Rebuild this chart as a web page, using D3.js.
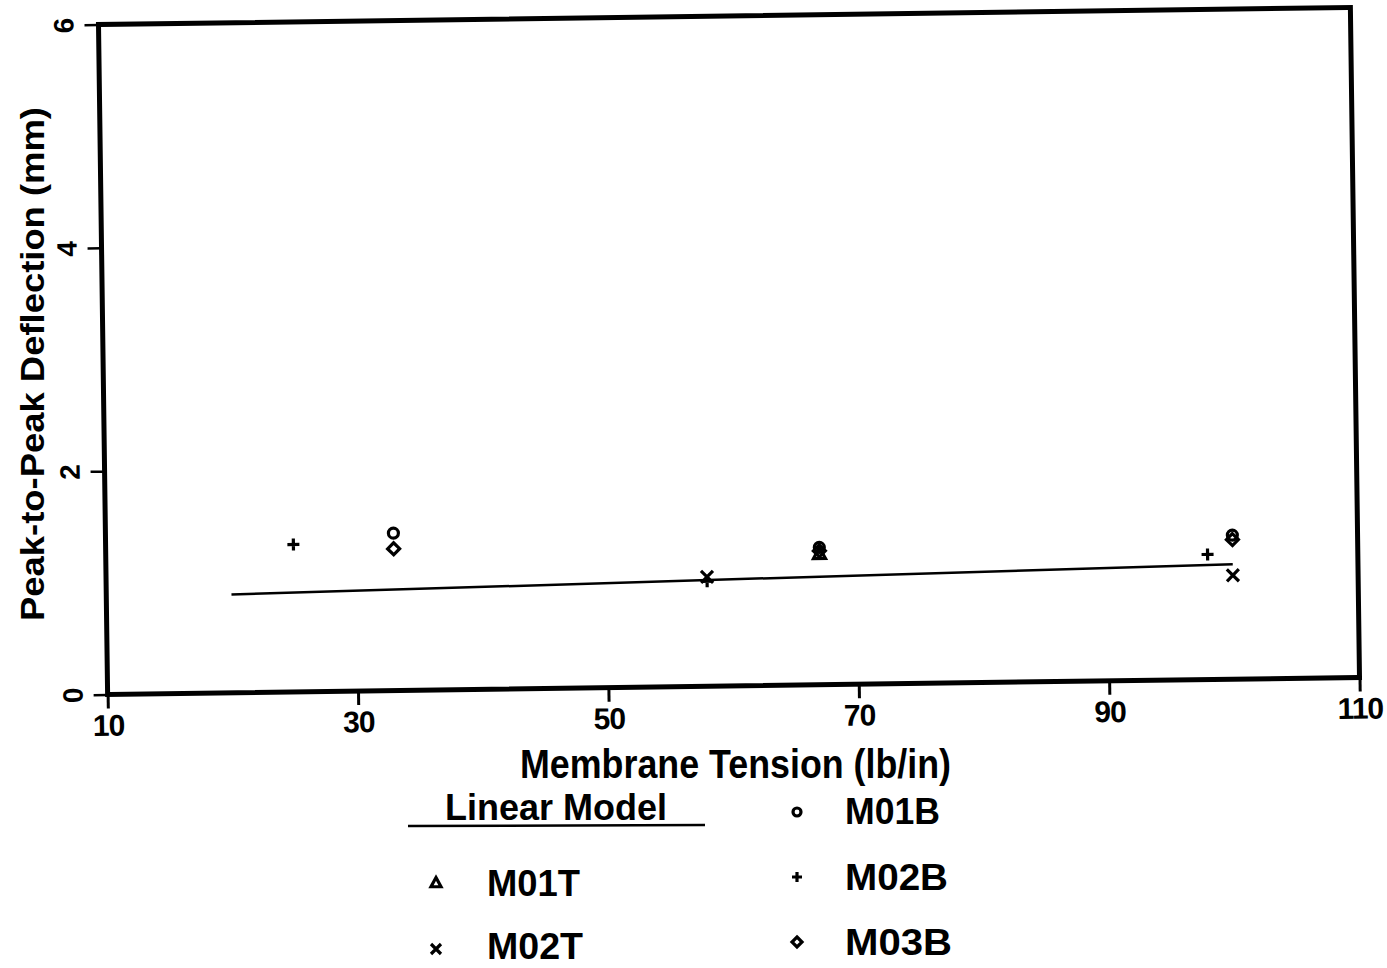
<!DOCTYPE html>
<html>
<head>
<meta charset="utf-8">
<script src="https://cdn.jsdelivr.net/npm/d3@7"></script>
<style>
  html, body { margin: 0; padding: 0; background: #fff; }
  svg { display: block; }
</style>
</head>
<body>
<svg id="chart" width="1387" height="968"></svg>
<script>
// Axis ticks
const xTicks = [10, 30, 50, 70, 90, 110];
const yTicks = [0, 2, 4, 6];

// Measured peak-to-peak deflection (mm) against membrane tension (lb/in)
const m01tX = [67];
const m01tY = [1.17];
const m02tX = [58, 100];
const m02tY = [0.98, 0.93];
const m01bX = [33, 67, 100];
const m01bY = [1.41, 1.23, 1.29];
const m02bX = [25, 58, 98];
const m02bY = [1.32, 0.94, 1.12];
const m03bX = [33, 67, 100];
const m03bY = [1.27, 1.20, 1.25];

// Linear model fit
const modelX = [20, 100];
const modelY = [0.88, 1.03];

const seriesNames = ["M01T", "M02T", "M01B", "M02B", "M03B"];
const seriesShapes = ["triangle", "x", "circle", "plus", "diamond"];
const seriesX = [m01tX, m02tX, m01bX, m02bX, m03bX];
const seriesY = [m01tY, m02tY, m01bY, m02bY, m03bY];

const svg = d3.select("#chart");
const plotLeft = 103, plotRight = 1355, plotTop = 16, plotBottom = 686;
const x = d3.scaleLinear().domain([10, 110]).range([plotLeft, plotRight]);
const y = d3.scaleLinear().domain([0, 6]).range([plotBottom, plotTop]);

// marker paths centred on the origin
function markerPath(shape, r) {
  const p = d3.path();
  if (shape === "circle") {
    p.moveTo(r, 0); p.arc(0, 0, r, 0, 2 * Math.PI);
  } else if (shape === "triangle") {
    p.moveTo(0, -r * 1.1); p.lineTo(r, r * 0.75); p.lineTo(-r, r * 0.75); p.closePath();
  } else if (shape === "x") {
    p.moveTo(-r, -r); p.lineTo(r, r); p.moveTo(r, -r); p.lineTo(-r, r);
  } else if (shape === "plus") {
    p.moveTo(-r, 0); p.lineTo(r, 0); p.moveTo(0, -r); p.lineTo(0, r);
  } else if (shape === "diamond") {
    p.moveTo(0, -r); p.lineTo(r, 0); p.lineTo(0, r); p.lineTo(-r, 0); p.closePath();
  }
  return p.toString();
}

const plot = svg.append("g").attr("transform", "rotate(-0.78, 729, 351)");

// frame
plot.append("rect")
  .attr("x", plotLeft).attr("y", plotTop)
  .attr("width", plotRight - plotLeft).attr("height", plotBottom - plotTop)
  .attr("fill", "none").attr("stroke", "#000").attr("stroke-width", 5);

// x axis
const xAxis = plot.append("g")
  .attr("transform", `translate(0,${plotBottom})`)
  .call(d3.axisBottom(x).tickValues(xTicks).tickSize(14).tickPadding(6).tickFormat(d3.format("d")));
xAxis.select(".domain").remove();
xAxis.selectAll(".tick line").attr("stroke", "#000").attr("stroke-width", 3);
xAxis.selectAll(".tick text")
  .attr("fill", "#000")
  .style("font-family", "'Liberation Sans', Arial, sans-serif")
  .style("font-weight", "bold")
  .style("font-size", "30px")
  .style("letter-spacing", "-1px");

// y axis
const yAxis = plot.append("g")
  .attr("transform", `translate(${plotLeft},0)`)
  .call(d3.axisLeft(y).tickValues(yTicks).tickSize(14).tickFormat(d3.format("d")));
yAxis.select(".domain").remove();
yAxis.selectAll(".tick line").attr("stroke", "#000").attr("stroke-width", 2.5);
yAxis.selectAll(".tick text")
  .attr("x", null).attr("dy", null)
  .attr("text-anchor", "middle")
  .attr("transform", "translate(-25,0) rotate(-90)")
  .attr("fill", "#000")
  .style("font-family", "'Liberation Sans', Arial, sans-serif")
  .style("font-weight", "bold")
  .style("font-size", "28px");

// linear model line
const line = d3.line().x(d => x(d[0])).y(d => y(d[1]));
plot.append("path")
  .datum(d3.zip(modelX, modelY))
  .attr("d", line)
  .attr("fill", "none").attr("stroke", "#000").attr("stroke-width", 2.5);

// data markers
seriesNames.forEach((name, i) => {
  plot.append("g").attr("class", "series-" + name)
    .selectAll("path")
    .data(d3.zip(seriesX[i], seriesY[i]))
    .join("path")
    .attr("transform", d => `translate(${x(d[0])},${y(d[1])})`)
    .attr("d", markerPath(seriesShapes[i], seriesShapes[i] === "circle" ? 5 : 6))
    .attr("fill", "none").attr("stroke", "#000").attr("stroke-width", 3.2);
});

// axis titles
svg.append("text")
  .attr("transform", "translate(44,364) rotate(-90)")
  .attr("text-anchor", "middle")
  .attr("textLength", 514).attr("lengthAdjust", "spacingAndGlyphs")
  .style("font-family", "'Liberation Sans', Arial, sans-serif")
  .style("font-weight", "bold")
  .style("font-size", "34px")
  .text("Peak-to-Peak Deflection (mm)");

svg.append("text")
  .attr("x", 520).attr("y", 778)
  .attr("textLength", 431).attr("lengthAdjust", "spacingAndGlyphs")
  .style("font-family", "'Liberation Sans', Arial, sans-serif")
  .style("font-weight", "bold")
  .style("font-size", "41px")
  .text("Membrane Tension (lb/in)");

// legend
const legendFont = g => g
  .style("font-family", "'Liberation Sans', Arial, sans-serif")
  .style("font-weight", "bold")
  .style("font-size", "37px");

const legend = svg.append("g");
legend.append("text").attr("x", 445).attr("y", 820)
  .attr("textLength", 222).attr("lengthAdjust", "spacingAndGlyphs")
  .call(legendFont).text("Linear Model");
legend.append("line")
  .attr("x1", 408).attr("x2", 705).attr("y1", 826).attr("y2", 825)
  .attr("stroke", "#000").attr("stroke-width", 2.5);

const legendItems = [
  { name: "M01T", mx: 436, my: 883, tx: 487, ty: 896, w: 93 },
  { name: "M02T", mx: 436, my: 949, tx: 487, ty: 959, w: 96 },
  { name: "M01B", mx: 797, my: 812, tx: 845, ty: 824, w: 95 },
  { name: "M02B", mx: 797, my: 877, tx: 845, ty: 890, w: 103 },
  { name: "M03B", mx: 797, my: 942, tx: 845, ty: 955, w: 107 }
];
legendItems.forEach(it => {
  const i = seriesNames.indexOf(it.name);
  legend.append("path")
    .attr("transform", `translate(${it.mx},${it.my})`)
    .attr("d", markerPath(seriesShapes[i], seriesShapes[i] === "circle" ? 4 : 5))
    .attr("fill", "none").attr("stroke", "#000").attr("stroke-width", 3.2);
  legend.append("text").attr("x", it.tx).attr("y", it.ty)
    .attr("textLength", it.w).attr("lengthAdjust", "spacingAndGlyphs")
    .call(legendFont).text(it.name);
});
</script>
</body>
</html>
